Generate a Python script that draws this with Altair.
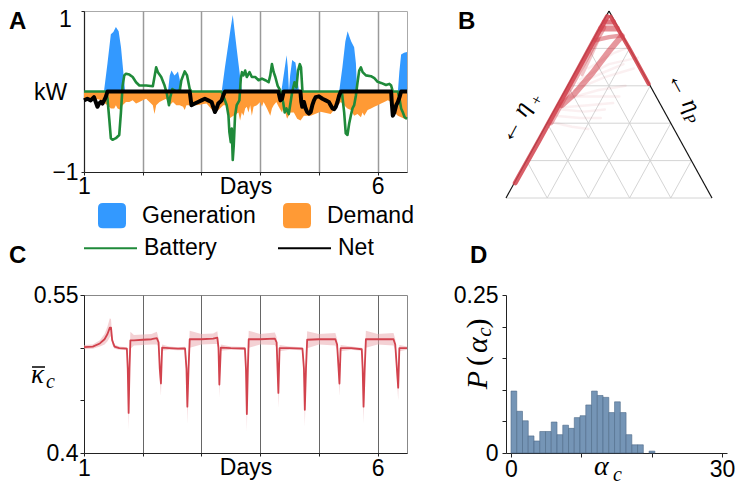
import altair as alt
import numpy as np
import pandas as pd

SANS = "Liberation Sans"
SERIF = "Liberation Serif"
BLUE = "#3399ff"
ORANGE = "#ff9a35"
GREEN = "#1f8a3a"
RED = "#d2424d"
BAR = "#7595b6"

# ---------------- Panel A data ----------------
gen_day = [1.0, 1.34, 1.40, 1.457, 1.50, 1.543, 1.59, 1.63, 1.657, 1.70,
           2.43, 2.46, 2.49, 2.54, 2.57, 2.60, 2.63, 2.66,
           3.345, 3.40, 3.45, 3.50, 3.533, 3.56, 3.60, 3.63, 3.66, 3.69,
           4.36, 4.42, 4.45, 4.47, 4.49, 4.51, 4.545, 4.58, 4.60, 4.63, 4.66,
           5.345, 5.40, 5.45, 5.489, 5.52, 5.55, 5.60, 5.63, 5.65,
           6.345, 6.37, 6.40, 6.45, 6.5]
gen_kw = [0, 0, 0.35, 0.71, 0.74, 0.80, 0.75, 0.55, 0.34, 0,
          0, 0.20, 0.26, 0.20, 0.22, 0.25, 0.15, 0,
          0, 0.30, 0.55, 0.80, 0.95, 0.78, 0.53, 0.35, 0.17, 0,
          0, 0.30, 0.45, 0.30, 0, 0.20, 0.39, 0.37, 0.36, 0.20, 0,
          0, 0.30, 0.62, 0.75, 0.68, 0.62, 0.55, 0.35, 0,
          0, 0.25, 0.46, 0.48, 0.49]

dem_day = [1.0, 1.143, 1.257, 1.40, 1.457, 1.515, 1.543, 1.572, 1.629, 1.657,
           1.715, 1.772, 1.829, 1.886, 1.943, 2.0, 2.058, 2.115, 2.172, 2.20,
           2.229, 2.286, 2.344, 2.40, 2.458, 2.515, 2.572, 2.63, 2.687, 2.715,
           2.744, 2.80, 2.916, 3.087, 3.23, 3.373, 3.43, 3.487, 3.544, 3.63,
           3.658, 3.687, 3.715, 3.744, 3.772, 3.80, 3.83, 3.858, 3.887, 3.944,
           4.0, 4.03, 4.058, 4.116, 4.172, 4.2, 4.23, 4.275, 4.315, 4.372,
           4.4, 4.458, 4.515, 4.573, 4.63, 4.687, 4.744, 4.86, 5.03, 5.2,
           5.373, 5.43, 5.486, 5.543, 5.6, 5.658, 5.715, 5.744, 5.772, 5.83,
           5.887, 5.944, 6.0, 6.058, 6.115, 6.172, 6.23, 6.287, 6.344, 6.4,
           6.458, 6.5]
dem_kw = [-0.08, -0.09, -0.10, -0.17, -0.21, -0.21, -0.17, -0.21, -0.23, -0.17,
          -0.13, -0.13, -0.11, -0.15, -0.13, -0.11, -0.09, -0.13, -0.17, -0.28,
          -0.17, -0.13, -0.11, -0.09, -0.17, -0.13, -0.17, -0.17, -0.19, -0.23,
          -0.17, -0.17, -0.17, -0.15, -0.27, -0.17, -0.17, -0.33, -0.30, -0.26,
          -0.36, -0.26, -0.30, -0.21, -0.19, -0.26, -0.17, -0.30, -0.19, -0.17,
          -0.13, -0.19, -0.13, -0.21, -0.30, -0.21, -0.17, -0.13, -0.19, -0.26,
          -0.19, -0.34, -0.26, -0.26, -0.34, -0.36, -0.30, -0.30, -0.25, -0.28,
          -0.13, -0.17, -0.21, -0.23, -0.30, -0.28, -0.32, -0.26, -0.30, -0.23,
          -0.21, -0.19, -0.17, -0.15, -0.13, -0.11, -0.13, -0.26, -0.30, -0.32,
          -0.34, -0.33]

bat_day = [1.0, 1.38, 1.40, 1.43, 1.457, 1.486, 1.543, 1.60, 1.629, 1.657,
           1.686, 1.715, 1.772, 1.829, 1.886, 1.943, 2.058, 2.172, 2.20, 2.229,
           2.258, 2.315, 2.372, 2.412, 2.447, 2.469, 2.504, 2.572, 2.63, 2.658,
           2.715, 2.755, 2.80, 2.83, 3.34, 3.37, 3.43, 3.46, 3.475, 3.50,
           3.516, 3.533, 3.55, 3.572, 3.60, 3.646, 3.67, 3.69, 3.715, 3.744,
           3.772, 3.818, 3.858, 3.915, 3.973, 4.03, 4.087, 4.144, 4.172, 4.20,
           4.23, 4.258, 4.298, 4.344, 4.39, 4.418, 4.447, 4.487, 4.544, 4.584,
           4.618, 4.645, 4.675, 4.695, 4.72, 5.39, 5.43, 5.457, 5.486, 5.515,
           5.543, 5.572, 5.60, 5.63, 5.658, 5.686, 5.715, 5.744, 5.80, 5.886,
           5.944, 6.0, 6.058, 6.143, 6.20, 6.23, 6.258, 6.345, 6.372, 6.40,
           6.43, 6.46, 6.5]
bat_kw = [0, 0, -0.09, -0.34, -0.58, -0.60, -0.58, -0.54, -0.26, 0.07,
          0.20, 0.22, 0.21, 0.18, 0.115, 0.074, 0.074, 0.066, 0.18, 0.30,
          0.24, 0.18, 0.074, -0.03, -0.17, -0.07, 0.03, 0.0, 0.01, 0.14,
          0.25, 0.20, 0.03, 0.0, 0.0, -0.05, -0.17, -0.30, -0.50, -0.63,
          -0.46, -0.85, -0.67, -0.30, -0.17, -0.11, 0.16, 0.24, 0.20, 0.26,
          0.18, 0.24, 0.18, 0.18, 0.14, 0.16, 0.14, 0.115, 0.20, 0.34,
          0.24, 0.18, 0.07, 0.01, -0.13, -0.26, -0.21, -0.28, -0.01, 0.115,
          0.05, 0.26, 0.34, 0.30, 0.0, 0.0, -0.26, -0.52, -0.54, -0.40,
          -0.30, -0.21, -0.17, -0.05, 0.115, 0.26, 0.30, 0.24, 0.20, 0.19,
          0.165, 0.12, 0.107, 0.08, 0.095, 0.074, 0.0, 0.0, -0.09, -0.21,
          -0.26, -0.32, -0.34]

net_day = [1.0, 1.057, 1.114, 1.17, 1.20, 1.229, 1.257, 1.286, 1.314, 1.343,
           1.37, 1.40, 2.80, 2.83, 2.886, 2.943, 3.0, 3.058, 3.115, 3.172,
           3.20, 3.23, 3.258, 3.286, 3.315, 3.343, 3.372, 3.40, 4.31, 4.344,
           4.372, 4.40, 4.685, 4.70, 4.716, 4.745, 4.773, 4.80, 4.83, 4.86,
           4.888, 4.916, 4.945, 5.0, 5.06, 5.116, 5.17, 5.20, 5.23, 5.26,
           5.287, 5.316, 5.345, 5.373, 6.23, 6.24, 6.258, 6.287, 6.316, 6.345,
           6.373, 6.40, 6.5]
net_kw = [-0.11, -0.09, -0.11, -0.07, -0.13, -0.19, -0.15, -0.13, -0.15, -0.11,
          -0.07, 0.0, 0.0, -0.17, -0.15, -0.13, -0.11, -0.09, -0.11, -0.13,
          -0.19, -0.255, -0.21, -0.15, -0.13, -0.11, -0.05, 0.0, 0.0, -0.11,
          -0.09, 0.0, 0.0, -0.13, -0.19, -0.13, -0.21, -0.255, -0.275, -0.255,
          -0.17, -0.11, -0.07, -0.06, -0.09, -0.11, -0.13, -0.17, -0.21, -0.22,
          -0.19, -0.13, -0.05, 0.0, 0.0, -0.13, -0.30, -0.255, -0.17, -0.13,
          -0.07, 0.0, 0.0]

# ---------------- Panel C data ----------------
c_day = [1.0, 1.15, 1.27, 1.35, 1.40, 1.44, 1.46, 1.48, 1.52, 1.60,
         1.73, 1.745, 1.76, 1.775, 1.79, 1.85, 2.0, 2.15, 2.24, 2.27,
         2.29, 2.31, 2.33, 2.45, 2.6, 2.72, 2.745, 2.76, 2.78, 2.80,
         3.0, 3.2, 3.27, 3.29, 3.305, 3.33, 3.5, 3.74, 3.758, 3.773,
         3.79, 3.805, 4.0, 4.25, 4.28, 4.31, 4.33, 4.5, 4.72, 4.745,
         4.76, 4.78, 4.80, 5.0, 5.28, 5.31, 5.35, 5.37, 5.55, 5.73,
         5.745, 5.76, 5.78, 5.80, 6.0, 6.27, 6.30, 6.35, 6.37, 6.5]
c_mean = [0.5005, 0.501, 0.504, 0.508, 0.513, 0.519, 0.519, 0.507, 0.501, 0.4995,
          0.499, 0.48, 0.438, 0.48, 0.507, 0.507, 0.5075, 0.508, 0.509, 0.505,
          0.48, 0.466, 0.500, 0.4995, 0.499, 0.4993, 0.48, 0.444, 0.48, 0.508,
          0.508, 0.5085, 0.5095, 0.50, 0.465, 0.50, 0.4995, 0.4992, 0.48, 0.437,
          0.48, 0.508, 0.508, 0.5085, 0.505, 0.457, 0.4995, 0.4995, 0.499, 0.48,
          0.441, 0.48, 0.5075, 0.508, 0.508, 0.503, 0.466, 0.4995, 0.4995, 0.4985,
          0.48, 0.444, 0.48, 0.508, 0.508, 0.508, 0.503, 0.462, 0.4995, 0.4995]
c_spread = [0.002, 0.002, 0.003, 0.005, 0.007, 0.009, 0.008, 0.004, 0.002, 0.0015,
            0.0015, 0.01, 0.016, 0.01, 0.008, 0.005, 0.005, 0.005, 0.006, 0.004,
            0.008, 0.012, 0.003, 0.0015, 0.0015, 0.0015, 0.01, 0.016, 0.01, 0.008,
            0.005, 0.005, 0.006, 0.006, 0.012, 0.003, 0.0015, 0.0015, 0.01, 0.016,
            0.01, 0.008, 0.005, 0.006, 0.005, 0.014, 0.003, 0.0015, 0.0015, 0.01,
            0.016, 0.01, 0.008, 0.005, 0.006, 0.005, 0.012, 0.003, 0.0015, 0.0015,
            0.01, 0.016, 0.01, 0.008, 0.005, 0.006, 0.005, 0.012, 0.003, 0.0015]

# ---------------- Panel D data ----------------
hist_density = [0.098, 0.066, 0.051, 0.027, 0.019, 0.034, 0.034, 0.049, 0.029, 0.044,
                0.039, 0.056, 0.059, 0.076, 0.098, 0.091, 0.088, 0.064, 0.081, 0.064,
                0.029, 0.013, 0.013, 0.0, 0.003]
hist_bin_width = 0.818

# ---------------- Panel B data ----------------
n_div = 5
traj_x = [[0.045, 0.16, 0.31, 0.45, 0.492],
          [0.217, 0.315, 0.413, 0.472],
          [0.508, 0.60, 0.693],
          [0.562, 0.50, 0.42, 0.33, 0.27],
          [0.435, 0.50, 0.555],
          [0.45, 0.41, 0.37],
          [0.462, 0.538],
          [0.478, 0.522],
          [0.30, 0.45, 0.58], [0.33, 0.48, 0.62], [0.28, 0.40, 0.52],
          [0.36, 0.50, 0.64], [0.25, 0.36, 0.46], [0.40, 0.52, 0.60],
          [0.23, 0.32, 0.40], [0.31, 0.44, 0.55], [0.35, 0.47, 0.57],
          [0.27, 0.38, 0.48]]
traj_y = [[0.07, 0.265, 0.525, 0.77, 0.84],
          [0.35, 0.52, 0.69, 0.79],
          [0.84, 0.69, 0.528],
          [0.75, 0.68, 0.58, 0.48, 0.43],
          [0.731, 0.745, 0.752],
          [0.735, 0.65, 0.57],
          [0.785, 0.785],
          [0.815, 0.815],
          [0.46, 0.50, 0.52], [0.50, 0.56, 0.60], [0.42, 0.43, 0.44],
          [0.55, 0.62, 0.65], [0.38, 0.37, 0.37], [0.60, 0.67, 0.70],
          [0.35, 0.33, 0.32], [0.47, 0.47, 0.47], [0.53, 0.58, 0.62],
          [0.41, 0.40, 0.41]]
traj_width = [5, 6, 4, 6, 4.5, 3, 6, 5] + [2.5] * 10
traj_alpha = [0.85, 0.45, 0.9, 0.55, 0.5, 0.3, 0.6, 0.7] + [0.08] * 10

# ---------------- helpers ----------------
_one = pd.DataFrame({"t": [0]})


def txt(s, x, y, size, font=SERIF, style="italic", weight="normal",
        align="left", baseline="alphabetic", angle=0, color="black"):
    kw = dict(text=s, fontSize=size, font=font, fontStyle=style, fontWeight=weight,
              align=align, baseline=baseline, color=color)
    if angle:
        kw["angle"] = angle
    return alt.Chart(_one).mark_text(**kw).encode(x=alt.value(x), y=alt.value(y))


def panel_label(s, x, y):
    return txt(s, x, y, 24, font=SANS, style="normal", weight="bold", baseline="top")


def days_axis(grid_color, grid_width, pad):
    return alt.Axis(values=[1, 2, 3, 4, 5, 6],
                    labelExpr="datum.value == 1 || datum.value == 6 ? datum.label : ''",
                    grid=True, gridColor=grid_color, gridWidth=grid_width,
                    domainColor="#222", tickColor="#222", tickSize=3,
                    labelFont=SANS, labelFontSize=23, labelColor="black",
                    labelPadding=pad, labelFlush=False, labelOverlap=False,
                    title="Days", titleFont=SANS, titleFontSize=23,
                    titleFontWeight="normal", titleColor="black",
                    titleBaseline="alphabetic", titleY=21)


# ---------------- Panel A ----------------
W1, HA = 323, 161
area_df = pd.concat([
    pd.DataFrame({"day": gen_day, "kw": gen_kw, "series": "Generation"}),
    pd.DataFrame({"day": dem_day, "kw": dem_kw, "series": "Demand"}),
])
bat_df = pd.DataFrame({"day": bat_day, "kw": bat_kw, "line": "Battery"})
net_df = pd.DataFrame({"day": net_day, "kw": net_kw, "line": "Net"})

xA = alt.X("day:Q", scale=alt.Scale(domain=[1, 6.5], nice=False, zero=False),
           axis=days_axis("#9a9a9a", 1.5, 0))
yA = alt.Y("kw:Q", stack=None, scale=alt.Scale(domain=[-1, 1], nice=False),
           axis=alt.Axis(values=[-1, 1], grid=False, domainColor="#222", tickColor="#222",
                         tickSize=3, labelAlign="center", labelBaseline="middle",
                         labelPadding=16, labelFont=SANS, labelFontSize=23,
                         labelColor="black", labelFlush=False,
                         labelOffset={"condition": {"test": "datum.value == 1", "value": 8.5},
                                      "value": 0},
                         title="kW", titleAngle=0, titleX=-34, titleY=81.5,
                         titleAlign="center", titleBaseline="middle", titleFont=SANS,
                         titleFontSize=23, titleFontWeight="normal", titleColor="black"))

ROUND_SQ = ("M-1,-0.55 Q-1,-0.9 -0.65,-0.9 L0.65,-0.9 Q1,-0.9 1,-0.55 L1,0.55 "
            "Q1,0.9 0.65,0.9 L-0.65,0.9 Q-1,0.9 -1,0.55 Z")

fill_legend = alt.Legend(orient="none", legendX=14, legendY=190.5, direction="horizontal",
                         columns=2, title=None, symbolType=ROUND_SQ, symbolSize=784,
                         symbolStrokeWidth=0, symbolOpacity=1, labelFont=SANS,
                         labelFontSize=23, labelColor="black", labelOffset=16,
                         columnPadding=27, padding=0, labelLimit=300)
stroke_legend = alt.Legend(orient="none", legendX=-1, legendY=209.5, direction="horizontal",
                           columns=2, title=None, symbolType="stroke", symbolSize=2809,
                           symbolStrokeWidth=2, labelFont=SANS, labelFontSize=23,
                           labelColor="black", labelOffset=6, columnPadding=57,
                           padding=0, labelLimit=300)

areas = alt.Chart(area_df).mark_area(opacity=1, interpolate="linear").encode(
    x=xA, y=yA,
    fill=alt.Fill("series:N", scale=alt.Scale(domain=["Generation", "Demand"],
                                              range=[BLUE, ORANGE]), legend=fill_legend))
line_stroke = alt.Stroke("line:N", scale=alt.Scale(domain=["Battery", "Net"],
                                                   range=[GREEN, "black"]),
                         legend=stroke_legend)
bat_line = alt.Chart(bat_df).mark_line(strokeWidth=2.6, strokeJoin="round").encode(
    x=xA, y=yA, stroke=line_stroke)
net_line = alt.Chart(net_df).mark_line(strokeWidth=4, strokeJoin="round").encode(
    x=xA, y=yA, stroke=line_stroke)

panelA = alt.layer(areas, bat_line, net_line, panel_label("A", -75, -1)).properties(
    width=W1, height=HA, view=alt.ViewBackground(stroke="#aaaaaa", strokeWidth=1))

# ---------------- Panel B ----------------
WB, HB = 206, 187
h = np.sqrt(3) / 2
grid_rows = []
gid = 0
for k in range(1, n_div):
    f = k / n_div
    for (p0, p1) in [((f / 2, f * h), (1 - f / 2, f * h)),
                     ((f, 0.0), (f + (1 - f) / 2, (1 - f) * h)),
                     ((f, 0.0), (f / 2, f * h))]:
        grid_rows += [{"id": gid, "k": 0, "x": p0[0], "y": p0[1]},
                      {"id": gid, "k": 1, "x": p1[0], "y": p1[1]}]
        gid += 1
grid_rows += [{"id": gid, "k": 0, "x": 0.0, "y": 0.0}, {"id": gid, "k": 1, "x": 1.0, "y": 0.0}]
grid_df = pd.DataFrame(grid_rows)
edge_df = pd.DataFrame({"id": [0, 0, 1, 1], "k": [0, 1, 0, 1],
                        "x": [0.0, 0.5, 0.5, 1.0], "y": [0.0, h, h, 0.0]})
traj_rows = []
for i, (xs, ys) in enumerate(zip(traj_x, traj_y)):
    for j, (xv, yv) in enumerate(zip(xs, ys)):
        traj_rows.append({"id": i, "k": j, "x": xv, "y": yv,
                          "w": traj_width[i], "op": traj_alpha[i]})
traj_df = pd.DataFrame(traj_rows)

xB = alt.X("x:Q", scale=alt.Scale(domain=[0, 1], nice=False, zero=False), axis=None)
yB = alt.Y("y:Q", scale=alt.Scale(domain=[0, 0.866], nice=False, zero=False), axis=None)

b_grid = alt.Chart(grid_df).mark_line(color="#cfcfcf", strokeWidth=0.9, strokeJoin="round").encode(
    x=xB, y=yB, detail="id:N", order="k:Q")
b_edges = alt.Chart(edge_df).mark_line(color="#111111", strokeWidth=1.2, strokeJoin="round").encode(
    x=xB, y=yB, detail="id:N", order="k:Q")
b_traj = alt.Chart(traj_df).mark_line(color=RED, strokeCap="round", strokeJoin="round").encode(
    x=xB, y=yB, detail="id:N", order="k:Q",
    size=alt.Size("w:Q", scale=None, legend=None),
    opacity=alt.Opacity("op:Q", scale=None, legend=None))

panelB = alt.layer(
    b_grid, b_edges, b_traj,
    txt("\u2190 \u03b7", 25.3, 96, 25, align="right", angle=298.5),
    txt("+", 33, 95.6, 16, style="normal", angle=298.5),
    txt("\u2190 \u03b7", 181.5, 103.7, 25, align="right", angle=61.5),
    txt("P", 176.7, 106.3, 16, angle=61.5),
    panel_label("B", -48, -1),
).properties(width=WB, height=HB, view=alt.ViewBackground(stroke="transparent"))

# ---------------- Panel C ----------------
HC = 158
c_df = pd.DataFrame({"day": c_day, "mean": c_mean})
c_df["lo"] = c_df["mean"] - np.array(c_spread)
c_df["hi"] = c_df["mean"] + np.array(c_spread)

xC = alt.X("day:Q", scale=alt.Scale(domain=[1, 6.5], nice=False, zero=False),
           axis=days_axis("#666666", 1, 1))
c_axis = alt.Axis(values=[0.4, 0.45, 0.5, 0.55],
                  labelExpr="datum.value < 0.41 ? '0.4' : (datum.value > 0.54 ? '0.55' : '')",
                  grid=False, domainColor="#222", tickColor="#222", tickSize=4,
                  labelPadding=2, labelFont=SANS, labelFontSize=23, labelColor="black",
                  labelFlush=False, labelOverlap=False, title=None)
c_scale = alt.Scale(domain=[0.4, 0.55], nice=False, zero=False)

c_band = alt.Chart(c_df).mark_area(color="#e9a3a9", opacity=0.5).encode(
    x=xC, y=alt.Y("lo:Q", scale=c_scale, axis=c_axis), y2="hi:Q")
c_line = alt.Chart(c_df).mark_line(color=RED, strokeWidth=1.8, strokeJoin="round").encode(
    x=xC, y=alt.Y("mean:Q", scale=c_scale, axis=c_axis))
c_overline = alt.Chart(_one).mark_rule(color="black", strokeWidth=1.5).encode(
    x=alt.value(-52), x2=alt.value(-39), y=alt.value(72))

panelC = alt.layer(
    c_band, c_line,
    txt("\u03ba", -53, 88, 27),
    c_overline,
    txt("c", -38, 93, 20),
    panel_label("C", -75, -51),
).properties(width=W1, height=HC, view=alt.ViewBackground(stroke="#888888", strokeWidth=1))

# ---------------- Panel D ----------------
WD = 221
edges = np.arange(len(hist_density) + 1) * hist_bin_width
d_df = pd.DataFrame({"x0": edges[:-1], "x1": edges[1:], "dens": hist_density})
d_df = d_df[d_df["dens"] > 0].copy()
d_df["base"] = 0.0

d_bars = alt.Chart(d_df).mark_bar(color=BAR, stroke="#4d6a88", strokeWidth=0.6, opacity=1,
                                  orient="vertical").encode(
    x=alt.X("x0:Q", scale=alt.Scale(domain=[0, 30], nice=False, zero=False),
            axis=alt.Axis(values=[0, 10, 20, 30],
                          labelExpr="datum.value == 0 || datum.value == 30 ? datum.label : ''",
                          grid=False, domainColor="#222", tickColor="#222", tickSize=4,
                          labelPadding=1, labelFont=SANS, labelFontSize=23,
                          labelColor="black", labelFlush=False, labelOverlap=False,
                          title=None)),
    x2="x1:Q",
    y=alt.Y("dens:Q", scale=alt.Scale(domain=[0, 0.25], nice=False, zero=True),
            axis=alt.Axis(values=[0, 0.05, 0.1, 0.15, 0.2, 0.25],
                          labelExpr="datum.value == 0 ? '0' : (datum.value > 0.24 ? '0.25' : '')",
                          grid=False, domainColor="#222", tickColor="#222", tickSize=4,
                          labelPadding=4, labelFont=SANS, labelFontSize=23,
                          labelColor="black", labelFlush=False, labelOverlap=False,
                          title=None)),
    y2="base:Q",
)

panelD = alt.layer(
    d_bars,
    txt("\u03b1", 88, 180, 28),
    txt("c", 107, 186, 20),
    txt("P", -19, 85, 30, align="center", angle=270),
    txt("(", -19, 66, 30, style="normal", align="center", angle=270),
    txt("\u03b1", -19, 50, 30, align="center", angle=270),
    txt("c", -15, 37, 21, align="center", angle=270),
    txt(")", -19, 28.5, 30, style="normal", align="center", angle=270),
    panel_label("D", -36, -51),
).properties(width=WD, height=HC, view=alt.ViewBackground(stroke="transparent"))

chart = alt.concat(
    panelA, panelB, panelC, panelD,
    columns=2, spacing={"row": 97, "column": 99}, bounds="flush",
).properties(padding=0).configure(font=SANS).configure_view(strokeWidth=1)

chart.save("out.html", embed_options={"renderer": "svg", "actions": False})
